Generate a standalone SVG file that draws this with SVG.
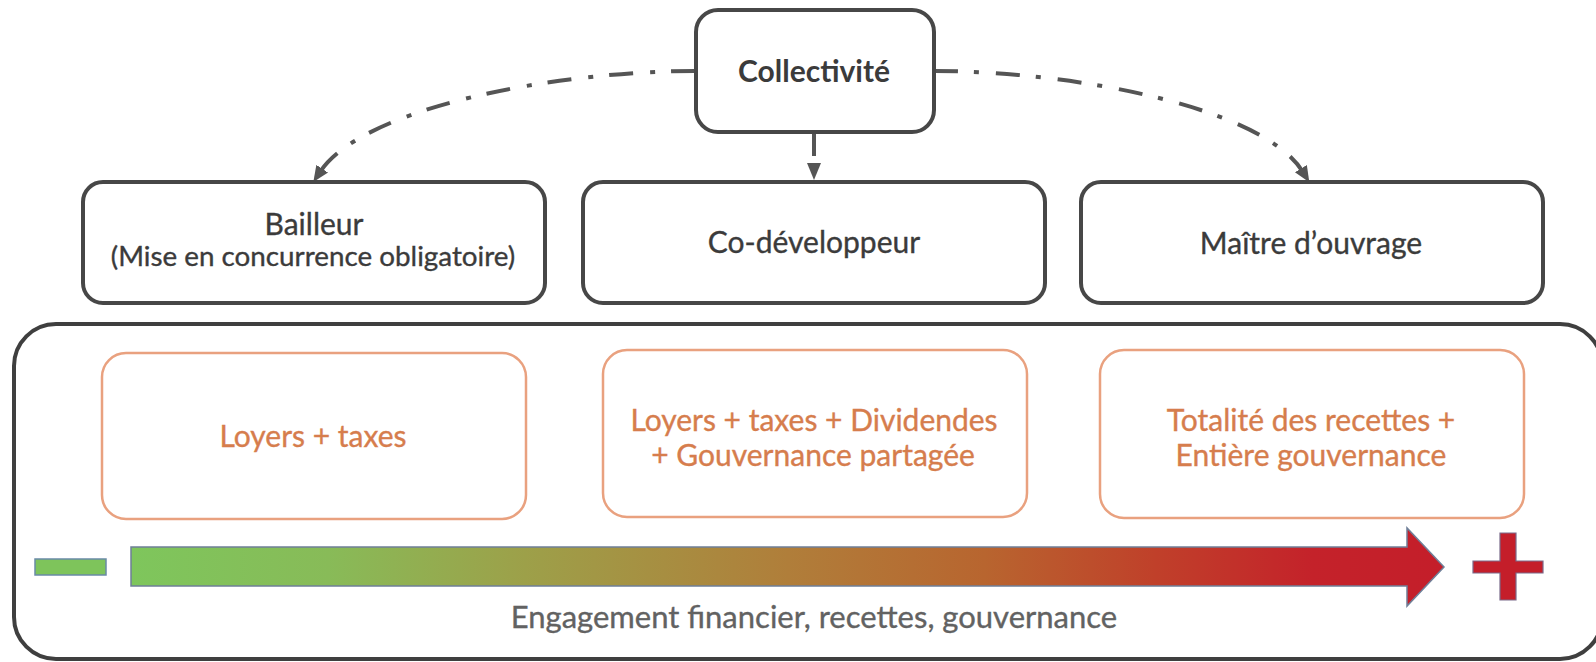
<svg xmlns="http://www.w3.org/2000/svg" width="1596" height="662" viewBox="0 0 1596 662">
<defs>
<style>
.box{fill:#fff;stroke:#474747;stroke-width:4}
.obox{fill:#fff;stroke:#e9a17f;stroke-width:2.5}
.t{font-family:Lato,"Open Sans","Liberation Sans",sans-serif;font-size:30px;fill:#3b3b3b;text-anchor:middle;stroke:#3b3b3b;stroke-width:0.35px}
.b{font-weight:bold;stroke-width:0}
.o{fill:#d67d4d;stroke:#d67d4d}
.g{fill:#626262;stroke:#626262}
.con{fill:none;stroke:#555;stroke-width:4;stroke-dasharray:24 16 5 17}
</style>
<marker id="ah" markerUnits="userSpaceOnUse" markerWidth="18" markerHeight="18" viewBox="0 0 18 18" refX="4" refY="9" orient="auto">
<path d="M0,2 L16,9 L0,16 z" fill="#555"/>
</marker>
<linearGradient id="grad" gradientUnits="userSpaceOnUse" x1="131" y1="0" x2="1444" y2="0">
<stop offset="0" stop-color="#7ec65c"/>
<stop offset="0.15" stop-color="#88bb58"/>
<stop offset="0.3" stop-color="#9da049"/>
<stop offset="0.5" stop-color="#b07e3a"/>
<stop offset="0.65" stop-color="#b8652f"/>
<stop offset="0.78" stop-color="#c0402a"/>
<stop offset="0.9" stop-color="#c4222a"/>
<stop offset="1" stop-color="#c41e2a"/>
</linearGradient>
</defs>
<rect width="1596" height="662" fill="#fff"/>

<g id="connectors">
<path class="con" d="M695,71 C560,71 364,106 320,172" marker-end="url(#ah)"/>
<path class="con" d="M934,71 C1069,71 1262,106 1303,172" marker-end="url(#ah)"/>
<path d="M814,132 L814,156" fill="none" stroke="#555" stroke-width="4"/>
<path d="M807,163 L821,163 L814,180 z" fill="#555"/>
</g>

<g id="collectivite">
<rect class="box" x="696" y="10" width="238" height="122" rx="22"/>
<text class="t b" x="814" y="82">Collectivité</text>
</g>

<g id="bailleur">
<rect class="box" x="83" y="182" width="462" height="121" rx="20"/>
<text class="t" x="314" y="235">Bailleur</text>
<text class="t" x="313" y="266" style="font-size:27.8px">(Mise en concurrence obligatoire)</text>
</g>

<g id="codeveloppeur">
<rect class="box" x="583" y="182" width="462" height="121" rx="20"/>
<text class="t" x="814" y="253">Co-développeur</text>
</g>

<g id="maitre">
<rect class="box" x="1081" y="182" width="462" height="121" rx="20"/>
<text class="t" x="1311" y="254">Maître d’ouvrage</text>
</g>

<g id="panel">
<rect x="14" y="324" width="1588" height="335" rx="42" fill="#fff" stroke="#3f3f3f" stroke-width="4"/>
</g>

<g id="loyers">
<rect class="obox" x="102" y="353" width="424" height="166" rx="24"/>
<text class="t o" x="313" y="447">Loyers + taxes</text>
</g>

<g id="dividendes">
<rect class="obox" x="603" y="350" width="424" height="167" rx="24"/>
<text class="t o" x="814" y="431">Loyers + taxes + Dividendes</text>
<text class="t o" x="813" y="466">+ Gouvernance partagée</text>
</g>

<g id="totalite">
<rect class="obox" x="1100" y="350" width="424" height="168" rx="24"/>
<text class="t o" x="1311" y="431">Totalité des recettes +</text>
<text class="t o" x="1311" y="466">Entière gouvernance</text>
</g>

<g id="scale">
<rect x="35" y="559" width="71" height="16" fill="#7ec45b" stroke="#6a8aa6" stroke-width="1.5"/>
<polygon points="131,547 1407,547 1407,528 1444,567 1407,606 1407,586 131,586" fill="url(#grad)" stroke="#6f7f98" stroke-width="1.5"/>
<path d="M1500,533 H1516 V561 H1543 V573 H1516 V600 H1500 V573 H1473 V561 H1500 z" fill="#c41e2a" stroke="#7a6a8a" stroke-width="1.2"/>
<text class="t g" x="814" y="628" style="font-size:31px">Engagement financier, recettes, gouvernance</text>
</g>
</svg>
